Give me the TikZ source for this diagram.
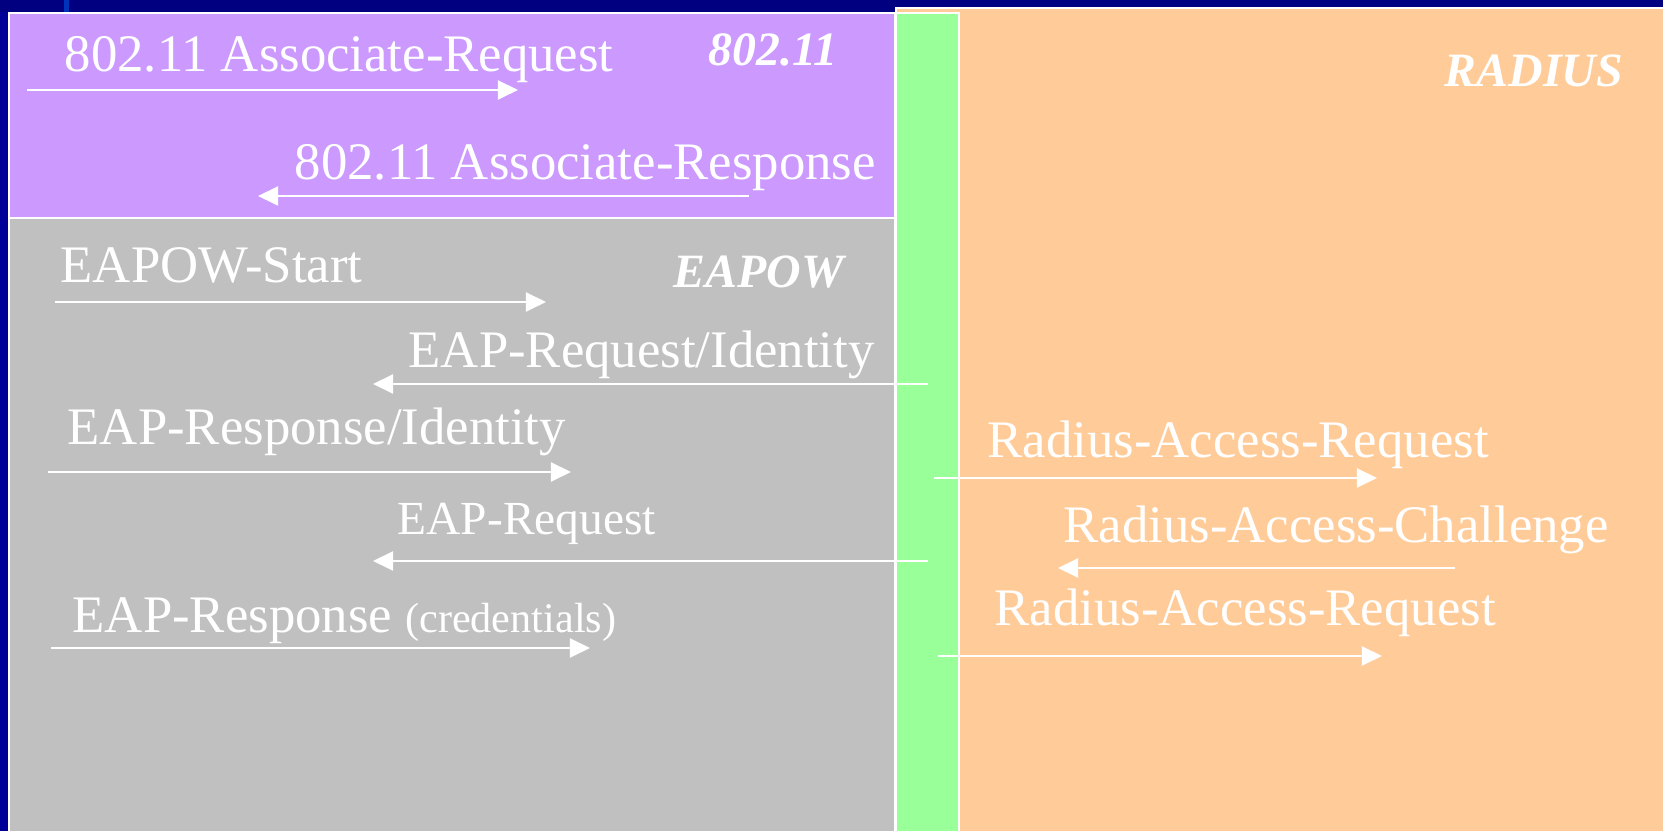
\documentclass[tikz,border=0pt]{standalone}
\usepackage{fontspec}
\setmainfont{Liberation Serif}
\usetikzlibrary{arrows.meta}
\definecolor{slidebg}{HTML}{000080}
\definecolor{slideedge}{HTML}{000099}
\definecolor{barblue}{HTML}{0033BB}
\definecolor{lilac}{HTML}{CC99FF}
\definecolor{greyzone}{HTML}{C0C0C0}
\definecolor{peach}{HTML}{FFCC99}
\definecolor{mint}{HTML}{99FF99}
\begin{document}
\begin{tikzpicture}[x=0.01cm, y=-0.01cm,
	every node/.style={font=\fontsize{15}{18}\selectfont, text=white, inner sep=0pt, anchor=base west},
	zone/.style={draw=white, line width=0.6pt},
	tag/.style={font=\fontsize{13.6}{16}\selectfont\bfseries\itshape},
	msg/.style={draw=white, line width=0.6pt, -{Triangle[length=5.7pt,width=5.4pt]}}]
	\useasboundingbox (0,0) rectangle (1663,831);
	% slide background
	\fill[slidebg] (0,0) rectangle (1663,831);
	\fill[slideedge] (0,12) rectangle (8,831);
	\fill[barblue] (64,0) rectangle (69,12);
	% protocol zones
	\filldraw[zone, fill=lilac] (9,13) rectangle (895,218);
	\filldraw[zone, fill=greyzone] (9,218) rectangle (895,840);
	\filldraw[zone, fill=peach] (896,8) rectangle (1670,840);
	\filldraw[zone, fill=mint] (896,13) rectangle (959,840);
	\node[tag] (wlan) at (708,66) {802.11};
	\node[tag] (eapow) at (673,288) {EAPOW};
	\node[tag] (radius) at (1444,87) {RADIUS};
	% 802.11 association
	\node (assocreq) at (64,72) {802.11 Associate-Request};
	\coordinate (assocreq-s) at (27,90);
	\coordinate (assocreq-e) at (518,90);
	\draw[msg] (assocreq-s) -- (assocreq-e);
	\node (assocresp) at (294,180) {802.11 Associate-Response};
	\coordinate (assocresp-s) at (749,196);
	\coordinate (assocresp-e) at (258,196);
	\draw[msg] (assocresp-s) -- (assocresp-e);
	% EAPOW exchange
	\node (start) at (60,283) {EAPOW-Start};
	\coordinate (start-s) at (55,302);
	\coordinate (start-e) at (546,302);
	\draw[msg] (start-s) -- (start-e);
	\node (reqid) at (408,368) {EAP-Request/Identity};
	\coordinate (reqid-s) at (928,384);
	\coordinate (reqid-e) at (373,384);
	\draw[msg] (reqid-s) -- (reqid-e);
	\node (respid) at (67,445) {EAP-Response/Identity};
	\coordinate (respid-s) at (48,472);
	\coordinate (respid-e) at (571,472);
	\draw[msg] (respid-s) -- (respid-e);
	\node[font=\fontsize{13.5}{16}\selectfont] (eapreq) at (397,535) {EAP-Request};
	\coordinate (eapreq-s) at (928,561);
	\coordinate (eapreq-e) at (373,561);
	\draw[msg] (eapreq-s) -- (eapreq-e);
	\node (eapresp) at (72,633) {EAP-Response {\fontsize{12}{14}\selectfont(credentials)}};
	\coordinate (eapresp-s) at (51,648);
	\coordinate (eapresp-e) at (590,648);
	\draw[msg] (eapresp-s) -- (eapresp-e);
	% RADIUS exchange
	\node (radreq) at (987,458) {Radius-Access-Request};
	\coordinate (radreq-s) at (934,478);
	\coordinate (radreq-e) at (1377,478);
	\draw[msg] (radreq-s) -- (radreq-e);
	\node (radchal) at (1063,543) {Radius-Access-Challenge};
	\coordinate (radchal-s) at (1455,568);
	\coordinate (radchal-e) at (1058,568);
	\draw[msg] (radchal-s) -- (radchal-e);
	\node (radreqb) at (994,626) {Radius-Access-Request};
	\coordinate (radreqb-s) at (938,656);
	\coordinate (radreqb-e) at (1382,656);
	\draw[msg] (radreqb-s) -- (radreqb-e);
\end{tikzpicture}
\end{document}
